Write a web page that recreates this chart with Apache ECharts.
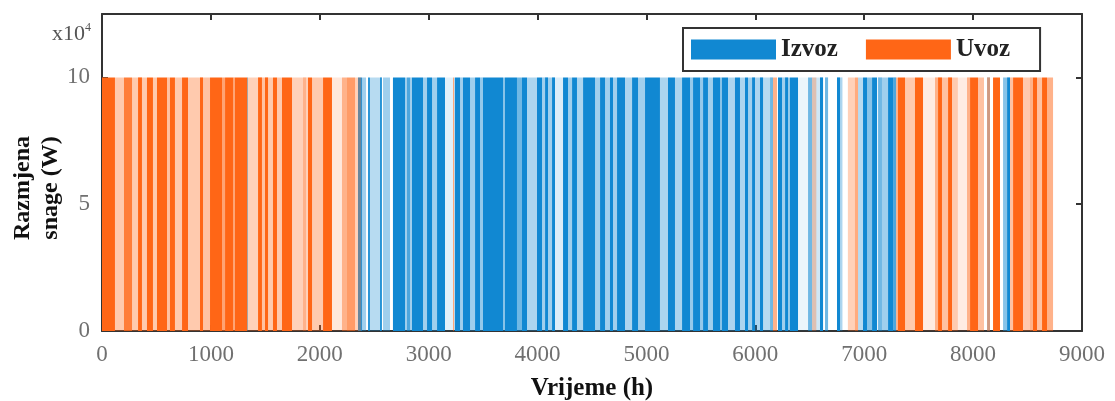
<!DOCTYPE html>
<html>
<head>
<meta charset="utf-8">
<script src="https://cdn.jsdelivr.net/npm/echarts@6/dist/echarts.min.js"></script>
<style>
html,body{margin:0;padding:0;background:#fff;}
#chart{width:1115px;height:401px;}
</style>
</head>
<body>
<div id="chart"></div>
<script>
// Each span: [startHour, endHour, share of hours at full exchange power]
const seriesNames = ['Izvoz', 'Uvoz'];
const exchangePower = 100000; // W
const xTicks = [0, 1000, 2000, 3000, 4000, 5000, 6000, 7000, 8000, 9000];
const yTicks = [0, 5, 10]; // x10^4 W

const izvozSpans = [
  [1332,1340,0.6],
  [2351,2388,0.9],[2388,2425,0.4],[2443,2461,0.9],[2461,2553,0.3],[2553,2571,0.9],[2581,2645,0.4],
  [2672,2783,1],[2783,2801,0.4],[2801,2829,0.75],[2829,2847,0.4],[2847,2948,1],[2948,2985,0.4],
  [2985,3031,1],[3031,3077,0.4],[3077,3150,1],[3150,3224,0.12],[3233,3242,0.3],[3242,3288,1],
  [3288,3315,0.4],[3315,3380,1],[3380,3426,0.4],[3426,3472,1],[3472,3499,0.45],[3499,3683,1],
  [3683,3701,0.5],[3701,3811,1],[3811,3857,0.6],[3857,3903,1],[3903,3995,0.35],[3995,4041,1],
  [4041,4069,0.4],[4069,4096,1],[4096,4133,0.4],[4133,4160,1],[4160,4234,0.15],[4234,4280,1],
  [4280,4317,0.4],[4317,4362,1],[4362,4418,0.35],[4418,4528,1],[4528,4574,0.4],[4574,4620,1],
  [4620,4665,0.4],[4665,4693,1],[4693,4730,0.4],[4730,4803,1],[4803,4868,0.35],[4868,4923,1],
  [4923,4987,0.4],[4987,5124,1],[5124,5198,0.35],[5198,5262,1],[5262,5327,0.35],[5327,5400,1],
  [5400,5428,0.45],[5428,5492,1],[5492,5520,0.45],[5520,5565,1],[5565,5611,0.4],[5611,5676,1],
  [5676,5694,0.5],[5694,5749,1],[5749,5813,0.35],[5813,5859,1],[5859,5905,0.35],[5905,5933,1],
  [5933,5970,0.4],[5970,5997,1],[5997,6043,0.35],[6043,6071,1],[6071,6135,0.3],[6135,6162,0.6],
  [6208,6245,1],[6245,6273,0.4],[6273,6300,1],[6300,6318,0.45],[6318,6392,1],[6392,6484,0.08],
  [6484,6521,0.6],[6521,6594,0.2],[6594,6622,1],[6640,6668,0.6],[6750,6778,1],[6778,6800,0.35],
  [6943,6989,0.3],[6989,7026,1],[7026,7072,0.5],[7072,7118,1],[7127,7163,0.6],[7163,7219,0.4],
  [7219,7265,1],[7265,7293,0.75],
  [8128,8155,0.4],[8275,8312,0.5],[8312,8339,1]
];

const uvozSpans = [
  [0,119,1],[119,202,0.35],[202,276,0.85],[276,331,0.35],[331,367,1],[367,413,0.35],[413,468,1],
  [468,505,0.35],[505,597,1],[597,624,0.4],[624,670,1],[670,735,0.35],[735,790,1],[790,900,0.35],
  [900,928,1],[928,992,0.4],[992,1102,1],[1102,1130,0.6],[1130,1203,1],[1203,1221,0.6],[1221,1332,1],
  [1332,1433,0.3],[1433,1469,1],[1469,1497,0.4],[1497,1525,1],[1525,1570,0.35],[1570,1607,1],
  [1607,1653,0.35],[1653,1745,1],[1745,1846,0.3],[1846,1874,0.5],[1874,1892,0.3],[1892,1929,1],
  [1929,2030,0.35],[2030,2112,1],[2112,2204,0.15],[2204,2250,0.5],[2250,2324,0.65],[2324,2380,0.3],
  [3224,3233,0.6],
  [6162,6199,0.5],[6521,6560,0.3],[6850,6915,0.3],[6915,6943,0.55],
  [7293,7310,0.5],[7310,7375,1],[7375,7466,0.35],[7466,7540,1],[7540,7650,0.12],[7650,7678,0.5],
  [7678,7714,1],[7714,7770,0.4],[7770,7806,1],[7806,7860,0.35],[7860,7944,0.12],[7944,7972,0.5],
  [7972,8045,1],[8045,8100,0.4],[8128,8155,0.5],[8183,8247,1],[8339,8367,0.4],[8367,8458,1],
  [8458,8522,0.35],[8522,8550,0.5],[8550,8587,1],[8587,8633,0.4],[8633,8679,1],[8679,8734,0.5]
];

const COLORS = {Izvoz: '#1188d2', Uvoz: '#ff6616'};
const FONT = "'Liberation Serif', 'DejaVu Serif', serif";

function spanSeries(name, spans) {
  return {
    type: 'custom',
    name: name,
    itemStyle: {color: COLORS[name]},
    encode: {x: [0, 1], y: 2},
    data: spans.map(s => [s[0], s[1], exchangePower, s[2]]),
    renderItem: function (params, api) {
      const p0 = api.coord([api.value(0), api.value(2)]);
      const p1 = api.coord([api.value(1), 0]);
      return {
        type: 'rect',
        shape: {x: p0[0], y: p0[1], width: p1[0] - p0[0], height: p1[1] - p0[1]},
        style: {fill: COLORS[name], opacity: api.value(3)}
      };
    }
  };
}

const axisLine = {show: true, onZero: false, lineStyle: {color: '#333', width: 2}};
const axisTick = {show: true, inside: true, length: 6, lineStyle: {color: '#333', width: 2}};
const tickFont = {fontFamily: FONT, fontSize: 23, color: '#707070'};

const chart = echarts.init(document.getElementById('chart'), null, {renderer: 'canvas'});
chart.setOption({
  animation: false,
  backgroundColor: '#fff',
  grid: {left: 102, right: 33, top: 14, bottom: 70, containLabel: false, outerBoundsMode: 'none'},
  legend: {
    data: seriesNames,
    left: 683, top: 28,
    icon: 'rect',
    itemWidth: 85, itemHeight: 20, itemGap: 28,
    padding: [9, 30, 9, 8],
    borderColor: '#333', borderWidth: 2,
    textStyle: {fontFamily: FONT, fontWeight: 'bold', fontSize: 25, color: '#222'}
  },
  xAxis: [{
    type: 'value', min: xTicks[0], max: xTicks[xTicks.length - 1], interval: 1000,
    axisLine: axisLine, axisTick: axisTick, splitLine: {show: false},
    axisLabel: Object.assign({margin: 12, formatter: v => String(v)}, tickFont),
    name: 'Vrijeme (h)', nameLocation: 'middle', nameGap: 45,
    nameTextStyle: {fontFamily: FONT, fontWeight: 'bold', fontSize: 25, color: '#111'}
  }, {
    type: 'value', position: 'top', min: xTicks[0], max: xTicks[xTicks.length - 1], interval: 1000,
    axisLine: axisLine, axisTick: axisTick, splitLine: {show: false}, axisLabel: {show: false}
  }],
  yAxis: [{
    type: 'value', min: 0, max: 125000, interval: 50000,
    axisLine: axisLine, axisTick: axisTick, splitLine: {show: false},
    axisLabel: Object.assign({margin: 12, showMaxLabel: false,
      formatter: v => (yTicks.indexOf(v / 10000) >= 0 ? String(v / 10000) : '')}, tickFont)
  }, {
    type: 'value', position: 'right', min: 0, max: 125000, interval: 50000,
    axisLine: axisLine, axisTick: axisTick, splitLine: {show: false}, axisLabel: {show: false}
  }],
  graphic: [{
    type: 'text', left: 52, top: 22,
    style: {
      text: '{b|x10}{s|4}',
      rich: {
        b: {fontFamily: FONT, fontSize: 22, fill: '#555', verticalAlign: 'bottom'},
        s: {fontFamily: FONT, fontSize: 12, fill: '#555', verticalAlign: 'top', padding: [0, 0, 11, 0]}
      }
    }
  }, {
    type: 'text', x: 37, y: 188, rotation: Math.PI / 2,
    style: {
      text: 'Razmjena\nsnage (W)',
      fontFamily: FONT, fontWeight: 'bold', fontSize: 24, fill: '#111',
      lineHeight: 28, align: 'center', verticalAlign: 'middle'
    }
  }],
  series: [spanSeries('Izvoz', izvozSpans), spanSeries('Uvoz', uvozSpans)]
});
</script>
</body>
</html>
